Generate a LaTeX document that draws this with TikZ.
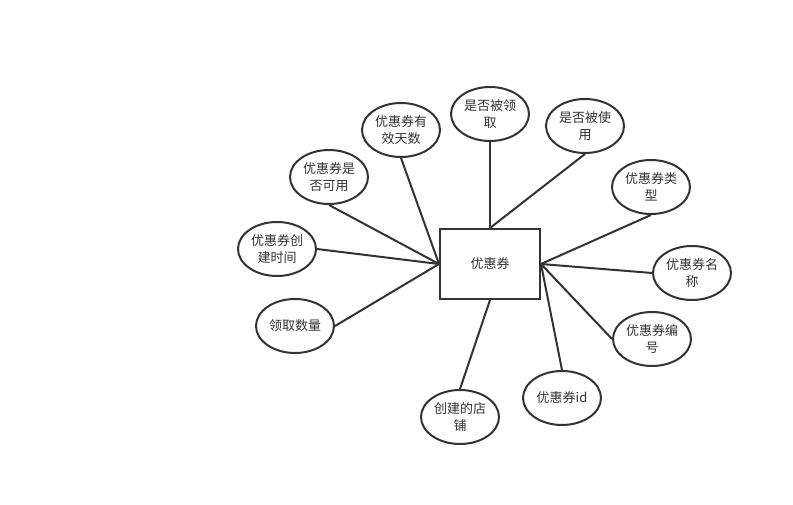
\documentclass[tikz,border=0pt]{standalone}
\usepackage{fontspec}
\setmainfont{Noto Sans CJK SC}
\usepackage{xcolor}
\usetikzlibrary{shapes,arrows,positioning}

\definecolor{inkgray}{HTML}{333333}

\begin{document}
\begin{tikzpicture}[
        x=0.75pt, y=-0.75pt,
        entity/.style={rectangle, draw=inkgray, fill=white, minimum width=75pt, minimum height=52.5pt, line width=1.5pt, text=inkgray, font=\fontsize{9.75}{12.75}\selectfont},
        attr/.style={ellipse, draw=inkgray, fill=white, minimum width=58.5pt, minimum height=40.5pt, inner sep=0pt, align=center, line width=1.5pt, text=inkgray, font=\fontsize{9.75}{12.75}\selectfont},
        link/.style={draw=inkgray, line width=1.5pt}
    ]
    \useasboundingbox (0,0) rectangle (793,505);

    % Entity
    \node [entity] (coupon) at (490,264) {优惠券};

    % Attributes, left and top
    \node [attr] (validdays) at (401,130) {优惠券有\\效天数};
    \node [attr] (received) at (490,114) {是否被领\\取};
    \node [attr] (used) at (585,126) {是否被使\\用};
    \node [attr] (available) at (329,177) {优惠券是\\否可用};
    \node [attr] (createtime) at (277,249) {优惠券创\\建时间};
    \node [attr] (count) at (295,326) {领取数量};

    % Attributes, right and bottom
    \node [attr] (type) at (651,187) {优惠券类\\型};
    \node [attr] (name) at (692,273) {优惠券名\\称};
    \node [attr] (number) at (652,339) {优惠券编\\号};
    \node [attr] (id) at (562,398) {优惠券id};
    \node [attr] (shop) at (460,417) {创建的店\\铺};

    % Links
    \path [link] (validdays.south) -- (coupon.west);
    \path [link] (available.south) -- (coupon.west);
    \path [link] (createtime.east) -- (coupon.west);
    \path [link] (count.east) -- (coupon.west);
    \path [link] (received.south) -- (coupon.north);
    \path [link] (used.south) -- (coupon.north);
    \path [link] (type.south) -- (coupon.east);
    \path [link] (name.west) -- (coupon.east);
    \path [link] (number.west) -- (coupon.east);
    \path [link] (id.north) -- (coupon.east);
    \path [link] (shop.north) -- (coupon.south);

\end{tikzpicture}
\end{document}
